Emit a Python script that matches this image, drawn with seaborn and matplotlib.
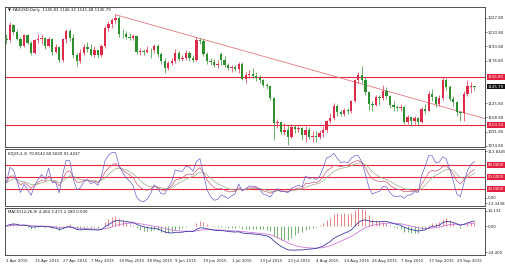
import numpy as np
import pandas as pd
import matplotlib
matplotlib.use("Agg")
import matplotlib.pyplot as plt
import matplotlib.transforms as mtransforms
import seaborn as sns

# ---------------- data ----------------
opens = [1202, 1201, 1219, 1211, 1203, 1194, 1207, 1198, 1186, 1201,
         1203, 1204, 1194, 1203, 1187, 1193, 1177, 1202, 1212, 1204,
         1183, 1176, 1186, 1193, 1191, 1184, 1189, 1183, 1194, 1216,
         1220, 1225, 1228, 1209, 1208, 1205, 1204, 1206, 1187, 1188,
         1187, 1190, 1189, 1194, 1185, 1176, 1168, 1174, 1176, 1186,
         1179, 1180, 1186, 1180, 1177, 1201, 1200, 1185, 1176, 1175,
         1172, 1185, 1177, 1172, 1168, 1169, 1167, 1173, 1155, 1159,
         1161, 1158, 1156, 1154, 1147, 1146, 1132, 1102, 1103, 1092,
         1094, 1086, 1097, 1095, 1096, 1088, 1094, 1086, 1087, 1085,
         1090, 1094, 1104, 1108, 1123, 1115, 1113, 1118, 1117, 1128,
         1153, 1160, 1154, 1139, 1125, 1124, 1133, 1132, 1140, 1134,
         1124, 1121, 1120, 1121, 1103, 1109, 1104, 1108, 1103, 1119,
         1117, 1137, 1133, 1125, 1132, 1153, 1145, 1131, 1127, 1115,
         1114, 1137, 1145.5, 1145.83]
highs = [1208, 1223, 1221, 1215, 1205, 1209, 1208, 1200, 1203, 1209,
         1208, 1205, 1205, 1204, 1197, 1194, 1204, 1214, 1215, 1208,
         1186, 1191, 1197, 1199, 1196, 1194, 1190, 1196, 1218, 1224,
         1228, 1232, 1230, 1214, 1212, 1210, 1208, 1207, 1192, 1191,
         1194, 1192, 1196, 1196, 1187, 1180, 1176, 1180, 1191, 1188,
         1184, 1190, 1188, 1184, 1205, 1204, 1202, 1187, 1180, 1179,
         1177, 1187, 1182, 1174, 1172, 1171, 1175, 1175, 1163, 1166,
         1168, 1163, 1159, 1155, 1150, 1147, 1133, 1107, 1105, 1102,
         1100, 1101, 1100, 1099, 1097, 1099, 1097, 1093, 1093, 1094,
         1099, 1106, 1114, 1126, 1125, 1118, 1120, 1120, 1130, 1155,
         1163, 1170, 1157, 1141, 1128, 1136, 1136, 1147, 1145, 1136,
         1129, 1124, 1125, 1124, 1112, 1111, 1110, 1109, 1121, 1125,
         1140, 1143, 1135, 1136, 1157, 1156, 1147, 1134, 1128, 1117,
         1141, 1153, 1151, 1146.32]
lows = [1197, 1199, 1208, 1201, 1192, 1193, 1196, 1183, 1185, 1198,
        1196, 1191, 1193, 1184, 1186, 1175, 1175, 1198, 1200, 1180,
        1170, 1174, 1184, 1187, 1182, 1181, 1180, 1181, 1192, 1212,
        1216, 1222, 1205, 1204, 1203, 1201, 1201, 1185, 1184, 1183,
        1186, 1180, 1186, 1181, 1173, 1162, 1166, 1171, 1174, 1176,
        1176, 1178, 1176, 1175, 1176, 1196, 1182, 1173, 1171, 1169,
        1168, 1172, 1169, 1166, 1163, 1164, 1162, 1153, 1150, 1156,
        1156, 1152, 1150, 1145, 1143, 1130, 1082, 1096, 1089, 1088,
        1076, 1084, 1090, 1092, 1082, 1079, 1083, 1080, 1080, 1083,
        1085, 1092, 1102, 1106, 1110, 1110, 1111, 1113, 1114, 1127,
        1150, 1150, 1136, 1118, 1116, 1122, 1124, 1130, 1131, 1120,
        1117, 1117, 1116, 1101, 1101, 1098, 1101, 1100, 1102, 1113,
        1116, 1128, 1121, 1122, 1130, 1142, 1128, 1123, 1111, 1104,
        1105, 1135, 1138, 1141.48]
closes = [1201, 1219, 1211, 1203, 1194, 1207, 1198, 1186, 1201, 1203,
          1204, 1194, 1203, 1187, 1193, 1177, 1202, 1212, 1204, 1183,
          1176, 1186, 1193, 1191, 1184, 1189, 1183, 1194, 1216, 1220,
          1225, 1228, 1209, 1208, 1205, 1204, 1206, 1187, 1188, 1187,
          1190, 1189, 1194, 1185, 1176, 1168, 1174, 1176, 1186, 1179,
          1180, 1186, 1180, 1177, 1201, 1200, 1185, 1176, 1175, 1172,
          1173, 1177, 1172, 1168, 1169, 1167, 1173, 1155, 1159, 1161,
          1158, 1156, 1154, 1147, 1146, 1132, 1102, 1103, 1092, 1094,
          1086, 1097, 1095, 1096, 1088, 1094, 1086, 1087, 1085, 1090,
          1094, 1104, 1108, 1123, 1115, 1113, 1118, 1117, 1128, 1153,
          1160, 1154, 1139, 1125, 1124, 1133, 1132, 1140, 1134, 1124,
          1121, 1120, 1121, 1103, 1109, 1104, 1108, 1103, 1119, 1117,
          1137, 1133, 1125, 1132, 1153, 1145, 1131, 1127, 1115, 1114,
          1137, 1146, 1146.0, 1145.79]
date_labels = ["2 Apr 2015", "15 Apr 2015", "27 Apr 2015", "7 May 2015",
               "19 May 2015", "28 May 2015", "9 Jun 2015", "19 Jun 2015",
               "1 Jul 2015", "13 Jul 2015", "23 Jul 2015", "4 Aug 2015",
               "14 Aug 2015", "26 Aug 2015", "7 Sep 2015", "17 Sep 2015",
               "29 Sep 2015"]
price_ticks = [1227.80, 1210.80, 1193.80, 1176.80, 1125.80, 1108.80,
               1091.80, 1074.80]
resistance_level = 1156.80
support_level = 1100.24
trend_bars = [31, 136]
trend_prices = [1231.6, 1107.4]
kdj_levels = [80, 50, 20]
kdj_ticks = [113.8445, 0.0, -13.3438]
kdj_tick_labels = ["113.8445", "0.00", "-13.3438"]
macd_ticks = [14.132, 0.0, -24.400]
macd_tick_labels = ["14.132", "0.00", "-24.400"]

title_main = "\u25bc XAUUSD,Daily  1145.83 1146.32 1141.48 1145.79"
title_kdj = "KDJ(9,3,3) 70.8142 60.5020 91.4437"
title_macd = "MACD(12,26,9) 4.404 3.471 2.280 0.000"

# ---------------- derived frame (indicators from the prices) ----------------
df = pd.DataFrame({"open": opens, "high": highs, "low": lows, "close": closes})
df["bar"] = np.arange(len(df))
c = df["close"]
ema12 = c.ewm(span=12, adjust=False).mean()
ema26 = c.ewm(span=26, adjust=False).mean()
df["macd"] = ema12 - ema26
df["signal"] = df["macd"].ewm(span=9, adjust=False).mean()
df["hist"] = 2 * (df["macd"] - df["signal"])
llv = df["low"].rolling(9, min_periods=1).min()
hhv = df["high"].rolling(9, min_periods=1).max()
rsv = (c - llv) / (hhv - llv) * 100
df["K"] = rsv.ewm(alpha=1 / 3, adjust=False).mean()
df["D"] = df["K"].ewm(alpha=1 / 3, adjust=False).mean()
df["J"] = 3 * df["K"] - 2 * df["D"]

# ---------------- style ----------------
sns.set_style("white")
plt.rcParams["font.family"] = ["DejaVu Sans"]

RED = "#dc2c4c"
GREEN = "#2f8f2f"
LEVEL = "#e8283c"
SPINE = "#505050"
FS = 2.8

fig = plt.figure(figsize=(5.05, 2.65), dpi=100)
fig.patch.set_facecolor("white")
W, H = 505.0, 265.0
L, R = 5.0, 485.0
ax_main = fig.add_axes([L / W, 1 - 147 / H, (R - L) / W, 140 / H])
ax_kdj = fig.add_axes([L / W, 1 - 206 / H, (R - L) / W, 57.5 / H])
ax_macd = fig.add_axes([L / W, 1 - 255 / H, (R - L) / W, 47.5 / H])

xlim = (-0.4, 136.0)
for ax in (ax_main, ax_kdj, ax_macd):
    ax.set_xlim(*xlim)
    for s in ax.spines.values():
        s.set_color(SPINE)
        s.set_linewidth(0.7)
    ax.yaxis.tick_right()
    ax.tick_params(axis="y", which="both", length=1.2, width=0.4, pad=0.6,
                   labelsize=FS, colors="#222222")
    ax.tick_params(axis="x", length=0, labelbottom=False)

# ---------------- main candles ----------------
up = df["close"] >= df["open"]
colors = np.where(up, RED, GREEN)
ax_main.vlines(df["bar"], df["low"], df["high"], colors=colors, linewidth=0.5, zorder=3)
body_lo = np.minimum(df["open"], df["close"])
body_h = np.maximum(np.abs(df["close"] - df["open"]), 0.5)
ax_main.bar(df["bar"], body_h, bottom=body_lo, width=0.66, color=colors,
            linewidth=0, zorder=4)

ax_main.axhline(resistance_level, color=LEVEL, lw=0.8, zorder=2)
ax_main.axhline(support_level, color=LEVEL, lw=0.8, zorder=2)
sns.lineplot(x=trend_bars, y=trend_prices, ax=ax_main, color="#e07a80",
             lw=0.6, zorder=2)
ax_main.set_ylim(1073.5, 1240.8)
ax_main.set_yticks(price_ticks)
ax_main.set_yticklabels([f"{v:.2f}" for v in price_ticks])
ax_main.set_xlabel("")
ax_main.set_ylabel("")
ax_main.text(0.006, 1 - 3.5 / 140, title_main, transform=ax_main.transAxes,
             fontsize=FS, va="center", ha="left", color="#111111")

tr_main = mtransforms.blended_transform_factory(ax_main.transAxes, ax_main.transData)
box_kw = dict(fontsize=FS, ha="left", va="center", color="white", zorder=20,
              clip_on=False, transform=tr_main)
ax_main.text(1.006, resistance_level, f"{resistance_level:.2f}",
             bbox=dict(boxstyle="square,pad=0.25", fc="#e0203c", ec="none"), **box_kw)
ax_main.text(1.006, support_level, f"{support_level:.2f}",
             bbox=dict(boxstyle="square,pad=0.25", fc="#e0203c", ec="none"), **box_kw)
ax_main.text(1.006, closes[-1], f"{closes[-1]:.2f}",
             bbox=dict(boxstyle="square,pad=0.25", fc="#111111", ec="none"), **box_kw)

# ---------------- KDJ ----------------
for lvl in kdj_levels:
    ax_kdj.axhline(lvl, color=LEVEL, lw=0.8, zorder=1)
sns.lineplot(data=df, x="bar", y="D", ax=ax_kdj, color="#9aaa8a", lw=0.5, zorder=3)
sns.lineplot(data=df, x="bar", y="K", ax=ax_kdj, color="#c85a78", lw=0.5, zorder=4)
sns.lineplot(data=df, x="bar", y="J", ax=ax_kdj, color="#6a62c8", lw=0.5, zorder=5)
ax_kdj.set_ylim(-20.5, 120.0)
ax_kdj.set_yticks(kdj_ticks)
ax_kdj.set_yticklabels(kdj_tick_labels)
ax_kdj.set_xlabel("")
ax_kdj.set_ylabel("")
ax_kdj.text(0.006, 1 - 5.5 / 57.5, title_kdj, transform=ax_kdj.transAxes,
            fontsize=FS, va="center", ha="left", color="#111111")
tr_kdj = mtransforms.blended_transform_factory(ax_kdj.transAxes, ax_kdj.transData)
for lvl in kdj_levels:
    ax_kdj.text(1.006, lvl, f"{lvl:.4f}", fontsize=FS, ha="left", va="center",
                color="white", zorder=20, clip_on=False, transform=tr_kdj,
                bbox=dict(boxstyle="square,pad=0.25", fc="#e0203c", ec="none"))

# ---------------- MACD ----------------
hist_colors = np.where(df["hist"] >= 0, "#e07070", "#5aa55a")
ax_macd.vlines(df["bar"], 0, df["hist"], colors=hist_colors, linewidth=0.6, zorder=2)
sns.lineplot(data=df, x="bar", y="signal", ax=ax_macd, color="#d078d8", lw=0.6, zorder=3)
sns.lineplot(data=df, x="bar", y="macd", ax=ax_macd, color="#3a3aa0", lw=0.6, zorder=4)
ax_macd.set_ylim(-27.2, 17.4)
ax_macd.set_yticks(macd_ticks)
ax_macd.set_yticklabels(macd_tick_labels)
ax_macd.set_ylabel("")
ax_macd.text(0.006, 1 - 4.5 / 47.5, title_macd, transform=ax_macd.transAxes,
             fontsize=FS, va="center", ha="left", color="#111111")

tick_pos = list(range(0, 8 * len(date_labels), 8))
ax_macd.set_xticks(tick_pos)
ax_macd.set_xticklabels(date_labels)
ax_macd.set_xlabel("")
ax_macd.tick_params(axis="x", length=1.5, width=0.4, pad=1.5, labelsize=FS,
                    labelbottom=True, colors="#222222")
for lab in ax_macd.get_xticklabels():
    lab.set_ha("left")

fig.savefig("out.png", dpi=100, facecolor="white")
